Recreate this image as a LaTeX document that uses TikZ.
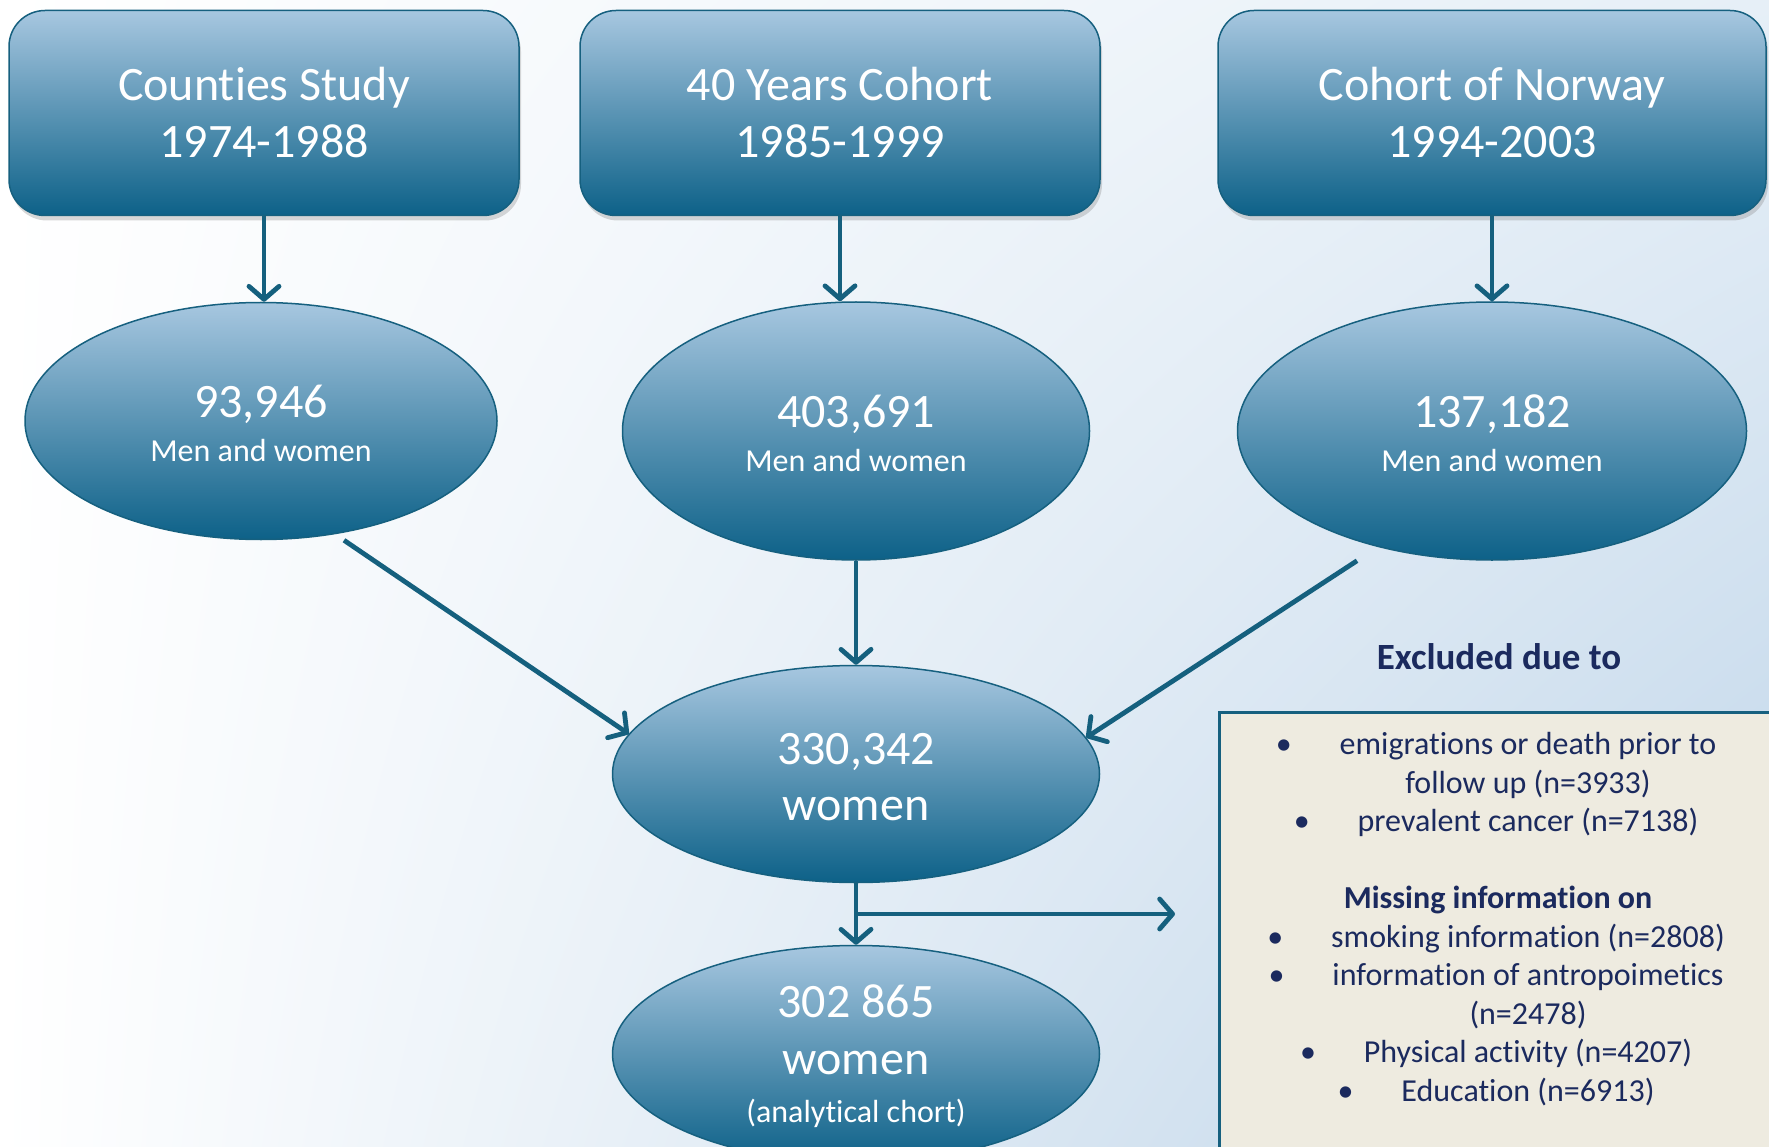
\documentclass[tikz,border=0pt]{standalone}
\usepackage{fontspec}
\setmainfont{Carlito}[Ligatures={NoCommon}]
\usetikzlibrary{arrows.meta,shadows,shapes.geometric,calc,shadings}
\definecolor{boxtop}{HTML}{A7C7E0}
\definecolor{boxbot}{HTML}{0D6188}
\definecolor{edgec}{HTML}{16607F}
\definecolor{arrc}{HTML}{15607E}
\definecolor{bgblue}{HTML}{BCD3E8}
\definecolor{bgtr}{HTML}{E6EFF7}
\definecolor{beige}{HTML}{EEEBE0}
\definecolor{navy}{HTML}{1B2A5E}
\newcommand{\bignum}[1]{{\fontsize{48}{48}\selectfont\rule{0pt}{37pt}#1}}
\newcommand{\lbul}{\llap{\textbullet\hspace{48pt}}}
\begin{document}
\begin{tikzpicture}[x=1pt,y=-1pt,
  srcbox/.style={rectangle, rounded corners=36pt, top color=boxtop, bottom color=boxbot,
    draw=edgec, line width=1.5pt, text=white, align=center, inner sep=0pt,
    drop shadow={opacity=0.3, shadow xshift=2pt, shadow yshift=-5pt},
    font=\fontsize{48}{57}\selectfont},
  cnt/.style={ellipse, top color=boxtop, bottom color=boxbot, draw=edgec, line width=1.5pt,
    text=white, align=center, inner sep=0pt},
  flow/.style={draw=arrc, line width=4.8pt,
    -{Straight Barb[length=13pt,width=30pt,line width=4.8pt,round]}},
  listtxt/.style={text=navy, align=center, font=\fontsize{32}{38.5}\selectfont}
]
\useasboundingbox (0,0) rectangle (1769,1147);
\shade[upper left=white, lower left=white, upper right=bgtr, lower right=bgblue]
  (0,0) rectangle (1769,1147);

% source boxes
\node[srcbox, minimum width=510pt, minimum height=205pt] (box1) at (264,113)
  {Counties Study\\1974-1988};
\node[srcbox, minimum width=520pt, minimum height=205pt] (box2) at (840,113)
  {40 Years Cohort\\1985-1999};
\node[srcbox, minimum width=548pt, minimum height=205pt] (box3) at (1492,113)
  {Cohort of Norway\\1994-2003};

% count ellipses
\node[cnt, minimum width=472pt, minimum height=237pt, font=\fontsize{32}{44}\selectfont] (ell1) at (261,421)
  {\bignum{93,946}\\Men and women};
\node[cnt, minimum width=467pt, minimum height=258pt, font=\fontsize{32}{44}\selectfont] (ell2) at (856,431)
  {\bignum{403,691}\\Men and women};
\node[cnt, minimum width=509pt, minimum height=258pt, font=\fontsize{32}{44}\selectfont] (ell3) at (1492,431)
  {\bignum{137,182}\\Men and women};
\node[cnt, minimum width=487pt, minimum height=217pt, font=\fontsize{48}{56}\selectfont] (ell4) at (856,774)
  {\rule{0pt}{37pt}330,342\\women};
\node[cnt, minimum width=487pt, minimum height=217pt, font=\fontsize{32}{48}\selectfont] (ell5) at (856,1054)
  {\bignum{302 865}\\[9pt]{\fontsize{48}{48}\selectfont women}\\(analytical chort)};

% exclusion box
\node[rectangle, anchor=north west, fill=beige, draw=edgec, line width=3pt,
  minimum width=620pt, minimum height=500pt] (excl) at (1218,711) {};
\node[text=navy, font=\bfseries\fontsize{37}{40}\selectfont] (exhead) at (1499,657) {Excluded due to};
\node[listtxt, anchor=north] (exlist) at (1528,729)
  {\lbul emigrations or death prior to\\
   follow up (n=3933)\\
   \lbul prevalent cancer (n=7138)\\[38.5pt]
   \hspace*{-60pt}\textbf{Missing information on}\\
   \lbul smoking information (n=2808)\\
   \lbul information of antropoimetics\\
   (n=2478)\\
   \lbul Physical activity (n=4207)\\
   \lbul Education (n=6913)};

% connectors
\draw[flow] (box1.south) -- (box1.south |- ell1.north);
\draw[flow] (box2.south) -- (box2.south |- ell2.north);
\draw[flow] (box3.south) -- (box3.south |- ell3.north);
\draw[flow] ([xshift=83pt]ell1.south) -- (ell4.170);
\draw[flow] (ell2.south) -- (ell4.north);
\draw[flow] ([xshift=-135pt]ell3.south) -- (ell4.9);
\draw[flow] (ell4.south) -- (ell5.north);
\coordinate (split) at ($(ell4.south)!0.5!(ell5.north)$);
\coordinate (exend) at (1175,914);
\draw[flow] (split) -- (exend);
\end{tikzpicture}
\end{document}
